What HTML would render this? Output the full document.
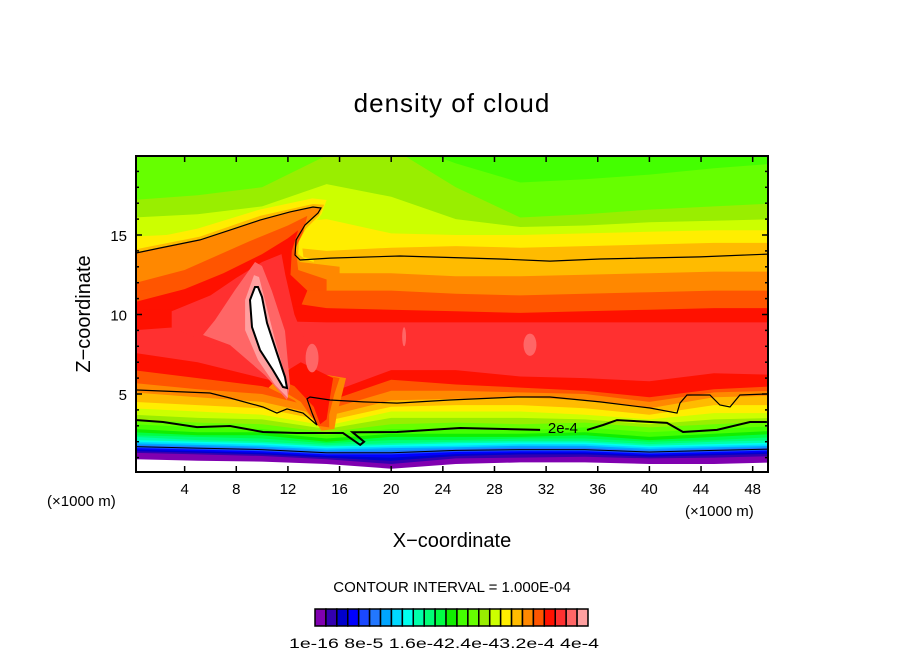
<!DOCTYPE html>
<html><head><meta charset="utf-8"><style>
html,body{margin:0;padding:0;background:#fff;}
svg{display:block;font-family:"Liberation Sans",sans-serif;}
</style></head><body>
<svg id="chart" width="904" height="654" viewBox="0 0 904 654" xmlns="http://www.w3.org/2000/svg">
<defs><clipPath id="plotclip"><rect x="136" y="156" width="632" height="316"/></clipPath></defs>
<text x="452" y="112" font-size="26" text-anchor="middle" letter-spacing="1">density of cloud</text>
<g id="field" clip-path="url(#plotclip)"></g>
<g id="axes"></g>
<text x="47" y="506" font-size="15">(×1000 m)</text>
<text x="685" y="516" font-size="15">(×1000 m)</text>
<text x="452" y="547" font-size="20" text-anchor="middle">X−coordinate</text>
<text x="0" y="0" font-size="20" text-anchor="middle" transform="translate(90,314) rotate(-90)">Z−coordinate</text>
<text x="452" y="592" font-size="15" text-anchor="middle">CONTOUR INTERVAL = 1.000E-04</text>
<g id="cbar"></g>
<text x="289" y="648" font-size="14" textLength="310" lengthAdjust="spacingAndGlyphs">1e-16 8e-5 1.6e-42.4e-43.2e-4 4e-4</text>
</svg>
<script>
const NS="http://www.w3.org/2000/svg";
const colors=["#8000b0","#3300b0","#0000cc","#0000ff","#1a48ff","#2277ff","#00a5ff","#00d8ff","#00ffee","#00ffaa","#00ff77","#00ff44","#11ee00","#44ff00","#66ff00","#99ee00","#ccff00","#ffee00","#ffbb00","#ff8800","#ff5500","#ff1100","#ff3030","#ff6666","#ffa0a0"];
const xs=[0,5,10,15,20,25,30,35,40,45,50];
const upperLevels=[14,15,16,17,18,19,20,21,22];
const b14=[21,21,21,21,21,19.5,18.3,18.5,18.8,19.2,19.5];
const b15=[17.2,17.5,18,20,20.5,18,16.1,16.3,16.6,16.8,17];
const b16=[16.1,16.3,16.8,18.2,17.4,16,15.5,15.6,15.8,15.9,16];
const b17=[14.9,15.1,15.6,16.0,15.1,15,15.0,15.1,15.2,15.3,15.3];
const b18=[14.1,14.3,14.4,14.0,14.2,14.3,14.2,14.3,14.4,14.5,14.5];
const b19=[12.8,13.0,13.1,12.6,12.6,12.4,12.4,12.5,12.6,12.7,12.7];
const b20=[11.7,11.9,12,11.5,11.5,11.3,11.2,11.3,11.4,11.5,11.5];
const b21=[10.5,10.8,11,10.4,10.3,10.2,10.1,10.2,10.3,10.4,10.4];
const b22=[9,9.3,9.6,9.5,9.5,9.5,9.5,9.5,9.5,9.5,9.5];
const upperBounds=[b14,b15,b16,b17,b18,b19,b20,b21,b22];
const lowerLevels=[21,20,19,18,17,16,15,14,13,12,11,10,9,8,7,6,5,4,3,2,1,0];
const l21=[7.6,7,6,5,6.5,6.5,6.1,6,5.8,6.3,6.2];
const l20=[6.5,6,5.5,4.5,5.9,5.6,5.4,5.2,4.8,5.3,5.5];
const l19=[5.7,5.3,5,4.0,5.2,5.2,5.1,5.0,4.5,5.1,5.2];
const l18=[5.1,4.8,4.5,3.6,4.6,4.7,4.8,4.6,4.1,4.8,4.9];
const l17=[4.5,4.3,4.1,3.3,4.2,4.3,4.3,4.1,3.7,4.3,4.3];
const l16=[4.1,3.9,3.7,3.0,3.9,3.9,3.9,3.7,3.4,3.8,3.8];
const l15=[3.7,3.5,3.4,2.8,3.5,3.5,3.5,3.4,3.1,3.4,3.5];
const l14=[3.4,3.2,3.1,2.6,3.1,3.2,3.1,3.2,2.9,3.1,3.3];
const l13=[3.1,2.9,2.8,2.4,2.8,2.8,2.7,2.9,2.6,2.8,3.0];
const l12=[2.8,2.6,2.6,2.2,2.5,2.5,2.5,2.6,2.3,2.5,2.7];
const l11=[2.6,2.4,2.4,2.0,2.3,2.3,2.3,2.4,2.1,2.3,2.5];
const l10=[2.4,2.3,2.2,1.9,2.1,2.1,2.2,2.2,2.0,2.1,2.3];
const l9=[2.3,2.1,2.0,1.8,1.9,2.0,2.05,2.05,1.85,2.0,2.1];
const l8=[2.1,2.0,1.9,1.7,1.8,1.9,1.95,1.95,1.75,1.85,1.95];
const l7=[2.0,1.9,1.8,1.6,1.7,1.75,1.85,1.85,1.65,1.75,1.85];
const l6=[1.9,1.8,1.7,1.5,1.6,1.65,1.75,1.75,1.55,1.65,1.75];
const l5=[1.8,1.7,1.6,1.4,1.45,1.55,1.62,1.62,1.45,1.55,1.65];
const l4=[1.7,1.6,1.5,1.3,1.3,1.45,1.5,1.5,1.35,1.45,1.55];
const l3=[1.6,1.5,1.4,1.2,1.2,1.35,1.4,1.4,1.25,1.35,1.45];
const l2=[1.5,1.4,1.3,1.1,1.0,1.22,1.3,1.3,1.15,1.25,1.35];
const l1=[1.4,1.3,1.2,1.0,0.8,1.1,1.2,1.2,1.05,1.15,1.25];
const l0=[1.3,1.2,1.1,0.9,0.6,0.95,1.0,1.05,0.95,1.0,1.1];
const lowerBounds=[l21,l20,l19,l18,l17,l16,l15,l14,l13,l12,l11,l10,l9,l8,l7,l6,l5,l4,l3,l2,l1,l0];
const groundZ=[0.9,0.8,0.75,0.6,0.3,0.6,0.7,0.7,0.6,0.6,0.7];
const wedge17=[[0.23,14.6],[5,15.4],[9.8,16.6],[13.9,17.3],[15.0,17.2],[14.6,16.3],[13.6,15.3],[13.1,14.3],[13.2,13.6],[14,13.5],[14,13],[0.23,13]];
const wedge18=[[0.23,14.1],[5.19,14.9],[9.84,16.2],[13.94,16.95],[14.8,16.9],[14.4,16.2],[13.4,15.4],[12.85,14.6],[12.8,13.8],[13.3,13.5],[14,13.3],[14,12.8],[0.23,12.8]];
const upperLine=[[0.23,13.87],[2.09,14.18],[5.19,14.69],[7.51,15.31],[9.84,15.94],[12.16,16.45],[13.94,16.76],[14.56,16.70],[14.33,16.38],[13.32,15.63],[12.63,14.69],[12.55,13.74],[12.94,13.43],[15.26,13.55],[20.68,13.68],[28.43,13.49],[32.3,13.36],[36.17,13.49],[43.92,13.62],[49.19,13.8]];
const wedge19=[[0.23,13.87],[2.09,14.18],[5.19,14.69],[7.51,15.31],[9.84,15.94],[12.16,16.45],[13.94,16.76],[14.56,16.70],[14.33,16.38],[13.32,15.63],[12.63,14.69],[12.55,13.74],[12.94,13.3],[16,13.0],[16,12.4],[0.23,12.6]];
const wedge20=[[0.23,12.0],[4,12.8],[9,14.6],[12,15.6],[13.5,16.2],[13.2,15.2],[12.6,14.2],[12.8,12.8],[15,12.2],[15,11.5],[0.23,11.5]];
const wedge21=[[0.23,10.8],[4,11.6],[7,12.6],[10,13.8],[12,14.8],[12.8,15.3],[12.3,14],[12.2,12.5],[13.5,11.5],[13,10.5],[0.23,10.3]];
const wedge22=[[3,10.2],[6,11.2],[8,12.3],[10,13.3],[11.5,13.8],[11.8,12.5],[12.5,10],[13.5,8],[14.5,5.5],[15.3,3.5],[14.5,4],[12.5,5.5],[10,7],[5,8.5],[3,9.2]];
const tongue19=[[10.5,5.4],[12.5,4.6],[14.0,3.4],[14.6,2.7],[15.6,2.8],[15.8,3.8],[16.2,5],[16.5,6],[12,6.6]];
const tongue20=[[11,5.5],[13,4.5],[14.3,3.0],[15.2,2.9],[15.2,3.7],[15.6,5],[16,6],[13,6.5]];
const tongue21=[[11,6],[12.5,5.5],[14,4.2],[14.5,3.1],[15,3.4],[15.2,4.5],[15.5,6],[13,7]];
const pink23=[[9.45,13.3],[7.9,11.54],[6.35,9.65],[5.42,8.71],[7.51,8.08],[10.22,6.19],[11.93,4.62],[12.16,5.56],[11.77,8.96],[10.76,11.48],[9.99,13.05]];
const pink24=[[9.37,12.48],[8.68,10.91],[8.68,9.02],[9.68,7.14],[11.0,5.57],[12.01,4.75],[11.77,6.19],[11.0,8.4],[10.22,10.91],[9.76,12.36]];
const lens=[[9.45,11.73],[9.06,10.91],[9.22,9.21],[9.84,7.77],[10.84,6.51],[11.62,5.44],[11.93,5.38],[11.77,6.07],[11.15,7.58],[10.38,9.47],[9.99,11.1],[9.68,11.73]];
const spots=[[13.87,7.26,0.5,0.9],[30.75,8.1,0.5,0.7],[21.0,8.6,0.15,0.6]];
const lowerLine=[[0.31,5.25],[5.96,5.06],[7.51,4.75],[10.07,4.18],[11.15,3.8],[11.93,4.06],[13.17,3.8],[14.25,3.05],[13.87,3.8],[13.48,4.69],[13.71,4.81],[15.26,4.62],[17.82,4.5],[20.45,4.43],[24.55,4.62],[29.74,4.81],[32.3,4.81],[36.17,4.5],[40.05,4.12],[42.14,3.8],[42.37,4.43],[42.91,4.94],[44.69,4.94],[45.46,4.31],[46.24,4.18],[47.01,4.94],[49.1,5.0]];
const line2e4a=[[0.31,3.36],[2.32,3.24],[4.96,2.92],[7.51,2.99],[10.07,2.61],[12.7,2.55],[16.27,2.55],[17.6,1.8],[17.9,2.0],[17.0,2.6],[20.45,2.61],[25.33,2.86],[31.53,2.74]];
const line2e4b=[[35.17,2.74],[36.41,3.05],[37.49,3.36],[41.36,3.18],[42.6,2.61],[45.24,2.74],[47.79,3.24],[49.1,3.24]];
const label2e4=[33.3,2.86];
const xTicks=[4,8,12,16,20,24,28,32,36,40,44,48];
const yTicks=[5,10,15];

const X=x=>133+12.91*x;
const Y=z=>473.5-15.9*z;
const field=document.getElementById('field');
const axes=document.getElementById('axes');
function mk(tag,parent){const e=document.createElementNS(NS,tag);parent.appendChild(e);return e;}
function pts(a){return a.map(p=>X(p[0]).toFixed(1)+','+Y(p[1]).toFixed(1)).join(' ');}
function below(arr){return xs.map((x,i)=>X(x).toFixed(1)+','+Y(arr[i]).toFixed(1)).join(' ')+' '+X(50)+','+Y(-1)+' '+X(0)+','+Y(-1);}

let bg=mk('rect',field);


bg.setAttribute('x',130);bg.setAttribute('y',150);bg.setAttribute('width',650);bg.setAttribute('height',330);bg.setAttribute('fill',colors[13]);
upperBounds.forEach((arr,i)=>{const p=mk('polygon',field);


p.setAttribute('points',below(arr));p.setAttribute('fill',colors[upperLevels[i]]);});
lowerBounds.forEach((arr,i)=>{const p=mk('polygon',field);


p.setAttribute('points',below(arr));p.setAttribute('fill',colors[lowerLevels[i]]);});
const gr=mk('polygon',field);


gr.setAttribute('points',below(groundZ));gr.setAttribute('fill','#fff');

const shapes=[[wedge17,17],[wedge18,18],[wedge19,19],[wedge20,20],[wedge21,21],[wedge22,22],[tongue19,19],[tongue20,20],[tongue21,21],[pink23,23],[pink24,24]];
shapes.forEach((s,i)=>{const p=mk('polygon',field);


p.setAttribute('points',pts(s[0]));p.setAttribute('fill',colors[s[1]]);});
spots.forEach((s,i)=>{const e=mk('ellipse',field);


e.setAttribute('cx',X(s[0]));e.setAttribute('cy',Y(s[1]));e.setAttribute('rx',s[2]*12.91);e.setAttribute('ry',s[3]*15.9);e.setAttribute('fill',colors[23]);});
const ln=mk('polygon',field);


ln.setAttribute('points',pts(lens));ln.setAttribute('fill','#fff');ln.setAttribute('stroke','#000');ln.setAttribute('stroke-width','2');

function line(a,name,w){const p=mk('polyline',field);


p.setAttribute('points',pts(a));p.setAttribute('fill','none');p.setAttribute('stroke','#000');p.setAttribute('stroke-width',w);}
line(upperLine,'contour-upper',1.2);
line(lowerLine,'contour-lower',1.2);
line(line2e4a,'contour-2e-4-left',2);
line(line2e4b,'contour-2e-4-right',2);
const lowArr=xs.map((x,i)=>[x,l4[i]]);
line(lowArr,'contour-low',1);
const lt=mk('text',field);


lt.setAttribute('x',X(label2e4[0]));lt.setAttribute('y',Y(label2e4[1])+5);lt.setAttribute('font-size','15');lt.setAttribute('text-anchor','middle');lt.textContent='2e-4';

const fr=mk('rect',axes);


fr.setAttribute('x',136);fr.setAttribute('y',156);fr.setAttribute('width',632);fr.setAttribute('height',316);fr.setAttribute('fill','none');fr.setAttribute('stroke','#000');fr.setAttribute('stroke-width','2');
function tick(x1,y1,x2,y2,name){const l=mk('line',axes);


l.setAttribute('x1',x1);l.setAttribute('y1',y1);l.setAttribute('x2',x2);l.setAttribute('y2',y2);l.setAttribute('stroke','#000');l.setAttribute('stroke-width','1.5');}
xTicks.forEach(v=>{const x=X(v);tick(x,472,x,466,'x-tick');tick(x,156,x,162,'x-tick-top');
const t=mk('text',axes);


t.setAttribute('x',x);t.setAttribute('y',494);t.setAttribute('font-size','15');t.setAttribute('text-anchor','middle');t.textContent=v;});
for(let z=1;z<=19;z++){const y=Y(z);const L=(z%5===0)?6:3;tick(136,y,136+L,y,'y-tick');tick(768,y,768-L,y,'y-tick-right');}
yTicks.forEach(v=>{const t=mk('text',axes);


t.setAttribute('x',127);t.setAttribute('y',Y(v)+6);t.setAttribute('font-size','15');t.setAttribute('text-anchor','end');t.textContent=v;});

const cb=document.getElementById('cbar');
const cw=273/colors.length;
colors.forEach((c,i)=>{const r=mk('rect',cb);


r.setAttribute('x',315+i*cw);r.setAttribute('y',609);r.setAttribute('width',cw);r.setAttribute('height',17);r.setAttribute('fill',c);r.setAttribute('stroke','#000');r.setAttribute('stroke-width','1.5');});
</script>
</body></html>
